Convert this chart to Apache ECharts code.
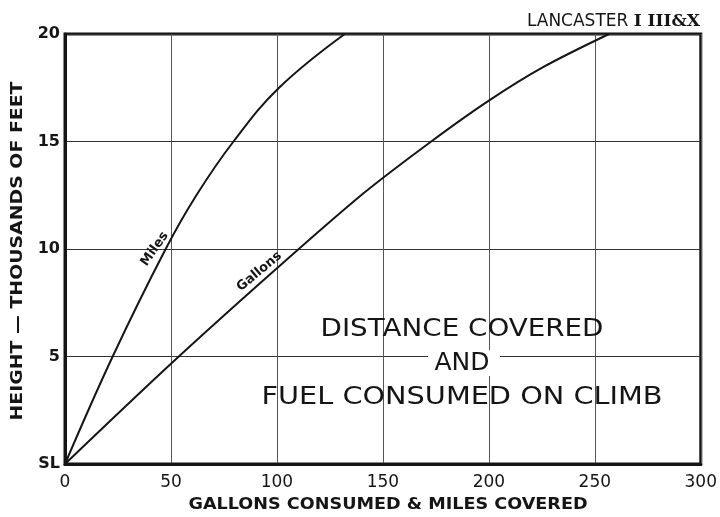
<!DOCTYPE html>
<html>
<head>
<meta charset="utf-8">
<script src="https://cdn.jsdelivr.net/npm/echarts@6/dist/echarts.min.js"></script>
<style>
    html, body { margin: 0; padding: 0; background: #fff; }
    #main { width: 720px; height: 517px; }
</style>
</head>
<body>
<div id="main"></div>
<script>
// values: [gallons or miles, height in thousands of feet]
const milesCurve = [[0, 0], [22.5, 5], [47.5, 10], [62, 12.5], [79.5, 15], [101, 17.5], [132, 20]];
const gallonsCurve = [[0, 0], [50, 4.66], [100, 9.1], [141, 12.6], [172.8, 15], [200, 16.9], [226, 18.48], [256.7, 20]];
const xTicks = [0, 50, 100, 150, 200, 250, 300];
const yTickLabels = { 0: 'SL', 5: '5', 10: '10', 15: '15', 20: '20' };
const milesLabelAt = [42.3, 10.0];
const gallonsLabelAt = [91.7, 8.95];

const font = 'DejaVu Sans';
const ink = '#151515';

let myChart = echarts.init(document.getElementById('main'));

function curveLabel (text, at, rotate) {
    return {
        symbol: 'circle',
        symbolSize: 1,
        itemStyle: { color: 'rgba(0,0,0,0)' },
        label: {
            show: true,
            position: 'inside',
            formatter: text,
            rotate: rotate,
            fontFamily: font,
            fontWeight: 'bold',
            fontSize: 13,
            color: ink
        },
        data: [{ coord: at }]
    };
}

// free text, stretched sideways a little to match the lettering of the original
function freeText (text, x, y, size, weight, stretch, rotation) {
    return {
        type: 'text',
        x: x,
        y: y,
        z: 10,
        scaleX: stretch,
        rotation: rotation || 0,
        style: {
            text: text,
            font: weight + ' ' + size + 'px "DejaVu Sans"',
            fill: ink,
            align: 'center',
            verticalAlign: 'middle'
        }
    };
}

myChart.setOption({
    animation: false,
    backgroundColor: '#fff',
    grid: {
        left: 65, right: 17, top: 34, bottom: 53,
        show: true,
        borderColor: ink,
        borderWidth: 3
    },
    title: {
        text: 'LANCASTER {r|I III&X}',
        right: 15,
        top: 8,
        textStyle: {
            fontFamily: font, fontSize: 17, fontWeight: 'normal', color: ink,
            rich: { r: { fontFamily: 'DejaVu Serif', fontSize: 17, fontWeight: 'bold', color: ink } }
        }
    },
    xAxis: {
        type: 'value',
        min: 0,
        max: 300,
        interval: 50,
        axisLine: { show: true, lineStyle: { color: ink, width: 3 } },
        axisTick: { show: false },
        axisLabel: {
            margin: 10,
            fontFamily: font,
            fontSize: 17,
            color: ink,
            formatter: (v) => xTicks.includes(v) ? String(v) : ''
        },
        splitLine: { show: true, lineStyle: { color: '#555', width: 1 } }
    },
    yAxis: {
        type: 'value',
        min: 0,
        max: 20,
        interval: 5,
        axisLine: { show: true, lineStyle: { color: ink, width: 3 } },
        axisTick: { show: false },
        axisLabel: {
            margin: 5,
            fontFamily: font,
            fontSize: 16,
            fontWeight: 'bold',
            color: ink,
            formatter: (v) => yTickLabels[v] || ''
        },
        splitLine: { show: true, lineStyle: { color: '#333', width: 1 } }
    },
    graphic: [
        freeText('GALLONS CONSUMED & MILES COVERED', 388, 505, 16, 'bold', 1.1),
        freeText('HEIGHT — THOUSANDS OF FEET', 18, 251, 16, 'bold', 1.18, Math.PI / 2),
        freeText('DISTANCE COVERED', 462, 329, 25, 'normal', 1.11),
        {
            type: 'rect',
            z: 9,
            shape: { x: 428, y: 350, width: 72, height: 26 },
            style: { fill: '#fff' }
        },
        freeText('AND', 462, 363, 25, 'normal', 1),
        freeText('FUEL CONSUMED ON CLIMB', 462, 397, 25, 'normal', 1.15)
    ],
    series: [{
        name: 'Miles',
        type: 'line',
        data: milesCurve,
        smooth: 0.4,
        showSymbol: false,
        lineStyle: { color: ink, width: 2 },
        markPoint: curveLabel('Miles', milesLabelAt, 55)
    }, {
        name: 'Gallons',
        type: 'line',
        data: gallonsCurve,
        smooth: 0.3,
        showSymbol: false,
        lineStyle: { color: ink, width: 2 },
        markPoint: curveLabel('Gallons', gallonsLabelAt, 40)
    }]
});
</script>
</body>
</html>
